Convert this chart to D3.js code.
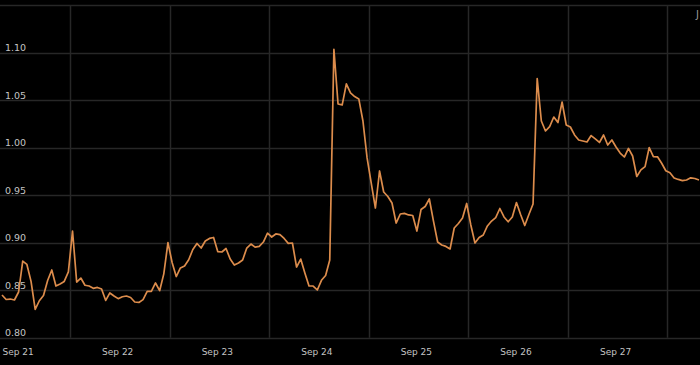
<!DOCTYPE html>
<html><head><meta charset="utf-8">
<script src="https://cdn.jsdelivr.net/npm/d3@7"></script>
<style>html,body{margin:0;padding:0;background:#000;overflow:hidden}</style>
</head><body><svg id="c" width="700" height="365"></svg>
<script>
// ---- data ----
const startTime = new Date(2023, 8, 21, 0, 0);   // first hourly sample
const hourlyValues = [
  // Sep 21
  0.8450,0.8402,0.8407,0.8397,0.8481,0.8807,0.8771,0.8593,0.8297,0.8389,0.8444,0.8602,
  0.8713,0.8544,0.8565,0.8592,0.8692,0.9123,0.8586,0.8628,0.8552,0.8544,0.8520,0.8529,
  // Sep 22
  0.8513,0.8392,0.8471,0.8439,0.8411,0.8431,0.8439,0.8423,0.8376,0.8371,0.8401,0.8488,
  0.8488,0.8576,0.8495,0.8672,0.9000,0.8792,0.8644,0.8734,0.8755,0.8821,0.8928,0.8992,
  // Sep 23
  0.8944,0.9018,0.9045,0.9055,0.8907,0.8902,0.8939,0.8828,0.8765,0.8786,0.8818,0.8944,
  0.8986,0.8953,0.8961,0.9007,0.9100,0.9060,0.9092,0.9085,0.9045,0.8993,0.8997,0.8744,
  // Sep 24
  0.8828,0.8681,0.8544,0.8544,0.8502,0.8604,0.8655,0.8818,1.1036,1.0460,1.0450,1.0671,
  1.0576,1.0538,1.0513,1.0281,0.9892,0.9628,0.9365,0.9755,0.9534,0.9486,0.9418,0.9207,
  // Sep 25
  0.9302,0.9309,0.9292,0.9286,0.9123,0.9349,0.9381,0.9460,0.9228,0.9007,0.8976,0.8961,
  0.8934,0.9155,0.9202,0.9260,0.9413,0.9187,0.8997,0.9055,0.9081,0.9176,0.9228,0.9265,
  // Sep 26
  0.9360,0.9271,0.9220,0.9271,0.9423,0.9297,0.9181,0.9297,0.9407,1.0728,1.0281,1.0176,
  1.0221,1.0323,1.0265,1.0481,1.0239,1.0218,1.0134,1.0081,1.0071,1.0060,1.0128,1.0092,
  // Sep 27
  1.0055,1.0134,1.0028,1.0081,1.0007,0.9944,0.9902,0.9992,0.9913,0.9697,0.9767,0.9801,
  1.0002,0.9907,0.9904,0.9836,0.9757,0.9737,0.9681,0.9666,0.9653,0.9660,0.9683,0.9676,
  // Sep 28 00:00
  0.9660
];
const yTicks = [0.80, 0.85, 0.90, 0.95, 1.00, 1.05, 1.10, 1.15];
const yTickLabels = ["0.80", "0.85", "0.90", "0.95", "1.00", "1.05", "1.10", ""];
const dayLabels = ["Sep 21", "Sep 22", "Sep 23", "Sep 24", "Sep 25", "Sep 26", "Sep 27"];
const gridHourOffset = 16.4;   // vertical grid lines fall in the afternoon of each day
const cornerText = "J";

// ---- chart ----
const W = 700, H = 365;
const svg = d3.select("#c");
svg.append("rect").attr("width", W).attr("height", H).attr("fill", "#000");

const data = hourlyValues.map((v, i) => ({ t: d3.timeHour.offset(startTime, i), v }));
const endTime = d3.timeDay.offset(startTime, 7);

const x = d3.scaleTime().domain([startTime, endTime]).range([2, 699]);
const y = d3.scaleLinear().domain([0.80, 1.15]).range([337.7, 5.2]);

const gridColor = "#272727";
const textColor = "#c4c4c4";
const font = "DejaVu Sans";

// horizontal grid lines
svg.append("g").selectAll("line").data(yTicks).join("line")
  .attr("x1", 0).attr("x2", W)
  .attr("y1", d => Math.round(y(d)) + 0.5).attr("y2", d => Math.round(y(d)) + 0.5)
  .attr("stroke", gridColor).attr("stroke-width", 1.5);

// vertical grid lines
const days = d3.timeDay.range(startTime, endTime);
svg.append("g").selectAll("line").data(days).join("line")
  .attr("x1", d => Math.round(x(d3.timeMinute.offset(d, gridHourOffset * 60))) + 0.5)
  .attr("x2", d => Math.round(x(d3.timeMinute.offset(d, gridHourOffset * 60))) + 0.5)
  .attr("y1", y(1.15)).attr("y2", y(0.80))
  .attr("stroke", gridColor).attr("stroke-width", 1.5);

// y axis labels (inside, above the grid lines)
const yAxis = d3.axisRight(y).tickValues(yTicks).tickSize(0)
  .tickFormat((d, i) => yTickLabels[i]);
const gy = svg.append("g").attr("transform", "translate(5,0)").call(yAxis);
gy.select(".domain").remove();
gy.selectAll("text").attr("x", 0).attr("dy", 0).attr("y", -2)
  .attr("text-anchor", "start").attr("fill", textColor)
  .style("font-family", font).style("font-size", "9.5px");

// x axis labels
const xAxis = d3.axisBottom(x).tickValues(days).tickSize(0)
  .tickFormat((d, i) => dayLabels[i]);
const gx = svg.append("g").attr("transform", "translate(0,0)").call(xAxis);
gx.select(".domain").remove();
gx.selectAll("text").attr("y", 355).attr("dy", 0)
  .attr("text-anchor", "start").attr("fill", textColor)
  .style("font-family", font).style("font-size", "9px");

// price line
const line = d3.line().x(d => x(d.t)).y(d => y(d.v)).curve(d3.curveLinear);
svg.append("path").datum(data).attr("d", line)
  .attr("fill", "none").attr("stroke", "#dc8c4c").attr("stroke-width", 1.7)
  .attr("stroke-linejoin", "round");

// clipped corner text
svg.append("text").attr("x", 696).attr("y", 18).text(cornerText)
  .attr("fill", "#9a9a9a").style("font-family", font).style("font-size", "10px");
</script>
</body></html>
